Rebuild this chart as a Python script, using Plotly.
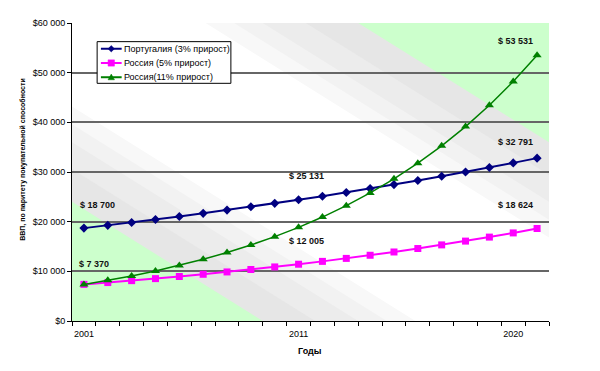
import plotly.graph_objects as go

# ---------------- data ----------------
periods = list(range(20))  # 20 yearly points
tick_positions = [0, 9, 18]
tick_labels = ["2001", "2011", "2020"]

portugal_3 = [18700, 19261, 19839, 20434, 21047, 21678, 22329, 22999, 23689, 24399,
              25131, 25885, 26662, 27462, 28285, 29134, 30008, 30908, 31836, 32791]
russia_5 = [7370, 7739, 8125, 8532, 8958, 9406, 9877, 10370, 10889, 11433,
            12005, 12605, 13236, 13897, 14592, 15322, 16088, 16892, 17737, 18624]
russia_11 = [7370, 8181, 9081, 10079, 11188, 12419, 13785, 15301, 16984, 18853,
             20927, 23228, 25784, 28620, 31768, 35262, 39141, 43447, 48226, 53531]

series_names = ["Португалия (3% прирост)", "Россия (5% прирост)", "Россия(11% прирост)"]
series_colors = ["#000080", "#FF00FF", "#008000"]
series_symbols = ["diamond", "square", "triangle-up"]

y_tickvals = [0, 10000, 20000, 30000, 40000, 50000, 60000]
y_ticktext = ["$0", "$10 000", "$20 000", "$30 000", "$40 000", "$50 000", "$60 000"]

value_labels = ["$ 18 700", "$ 7 370", "$ 25 131", "$ 12 005", "$ 53 531", "$ 32 791", "$ 18 624"]
# label positions in plot-area fractions
label_x = [0.053, 0.047, 0.492, 0.492, 0.929, 0.929, 0.930]
label_y = [0.390, 0.192, 0.487, 0.269, 0.938, 0.600, 0.389]

FONT = "Arial, Liberation Sans, sans-serif"
PW, PH = 477.0, 303.0  # plot area size in px

fig = go.Figure()
for vals, name, col, sym, lw, ms in zip([portugal_3, russia_5, russia_11], series_names,
                                        series_colors, series_symbols, [2, 2, 1.5], [7, 7, 8]):
    fig.add_trace(go.Scatter(x=periods, y=vals, name=name, mode="lines+markers",
                             line=dict(color=col, width=lw),
                             marker=dict(symbol=sym, size=ms, color=col),
                             showlegend=False))

# background diagonal gradient bands (paper coords = plot area)
bands = [(0.28, "#F8F8F8"), (0.34, "#F2F2F2"), (0.40, "#ECECEC"), (0.49, "#E6E6E6"), (0.60, "#CCFFCC")]
shapes = []
for t, col in bands:
    bl = f"M 0,{1 - t} L 0,0 L {1 - t},0 Z"
    tr = f"M {t},1 L 1,1 L 1,{t} Z"
    for p in (bl, tr):
        shapes.append(dict(type="path", path=p, xref="paper", yref="paper",
                           fillcolor=col, line=dict(width=0), layer="below"))

# legend drawn manually (compact, like the original)
leg_x0, leg_x1, leg_y0, leg_y1 = 0.0527, 0.3331, 0.7976, 0.9374
row_y = [0.9136, 0.8658, 0.8180]
ln_x0, ln_x1, mk_x, txt_x = 0.0606, 0.1041, 0.0823, 0.1055
shapes.append(dict(type="rect", xref="paper", yref="paper", x0=leg_x0, x1=leg_x1, y0=leg_y0, y1=leg_y1,
                   fillcolor="white", line=dict(color="black", width=1), layer="above"))
annotations = []
for name, col, sym, ry in zip(series_names, series_colors, series_symbols, row_y):
    shapes.append(dict(type="line", xref="paper", yref="paper", x0=ln_x0, x1=ln_x1, y0=ry, y1=ry,
                       line=dict(color=col, width=2), layer="above"))
    hx, hy = 3.2 / PW, 3.2 / PH
    if sym == "diamond":
        p = f"M {mk_x - hx},{ry} L {mk_x},{ry + hy} L {mk_x + hx},{ry} L {mk_x},{ry - hy} Z"
    elif sym == "square":
        p = f"M {mk_x - hx},{ry - hy} L {mk_x - hx},{ry + hy} L {mk_x + hx},{ry + hy} L {mk_x + hx},{ry - hy} Z"
    else:
        p = f"M {mk_x - hx},{ry - hy * 0.8} L {mk_x},{ry + hy} L {mk_x + hx},{ry - hy * 0.8} Z"
    shapes.append(dict(type="path", path=p, xref="paper", yref="paper", fillcolor=col,
                       line=dict(color=col, width=0.5), layer="above"))
    annotations.append(dict(text=name, x=txt_x, y=ry, xref="paper", yref="paper", showarrow=False,
                            xanchor="left", yanchor="middle",
                            font=dict(family=FONT, size=9, color="#000000")))

for txt, xx, yy in zip(value_labels, label_x, label_y):
    annotations.append(dict(text=txt, x=xx, y=yy, xref="paper", yref="paper", showarrow=False,
                            xanchor="center", yanchor="middle",
                            font=dict(family=FONT, size=9, color="#111111", weight="bold")))
annotations.append(dict(text="ВВП, по паритету покупательной способности", textangle=-90,
                        x=-0.1026, y=0.541, xref="paper", yref="paper", showarrow=False,
                        xanchor="center", yanchor="middle",
                        font=dict(family=FONT, size=7, color="#000000", weight="bold")))
annotations.append(dict(text="Годы", x=0.498, y=-0.099, xref="paper", yref="paper", showarrow=False,
                        xanchor="center", yanchor="middle",
                        font=dict(family=FONT, size=9, color="#000000", weight="bold")))

# page body has an 8px margin, so the figure is sized/offset to compensate
fig.update_layout(
    width=592, height=363,
    margin=dict(l=64, r=51, t=10, b=50),
    paper_bgcolor="white", plot_bgcolor="white",
    font=dict(family=FONT, size=9, color="#000000"),
    shapes=shapes, annotations=annotations,
    showlegend=False,
)
fig.update_xaxes(range=[-0.5, 19.5], tickvals=tick_positions, ticktext=tick_labels,
                 showline=True, linecolor="black", linewidth=1,
                 ticks="outside", ticklen=4, tickcolor="rgba(0,0,0,0)",
                 minor=dict(tick0=-0.5, dtick=1, ticks="outside", ticklen=4, tickcolor="black"),
                 showgrid=False, zeroline=False,
                 tickfont=dict(family=FONT, size=9, color="#000000"))
fig.update_yaxes(range=[0, 60000], tickvals=y_tickvals, ticktext=y_ticktext,
                 showline=True, linecolor="black", linewidth=1,
                 ticks="outside", ticklen=4, tickcolor="black",
                 showgrid=True, gridcolor="#666666", gridwidth=1.5, zeroline=False,
                 tickfont=dict(family=FONT, size=9, color="#000000"))

fig.write_html("out.html")
